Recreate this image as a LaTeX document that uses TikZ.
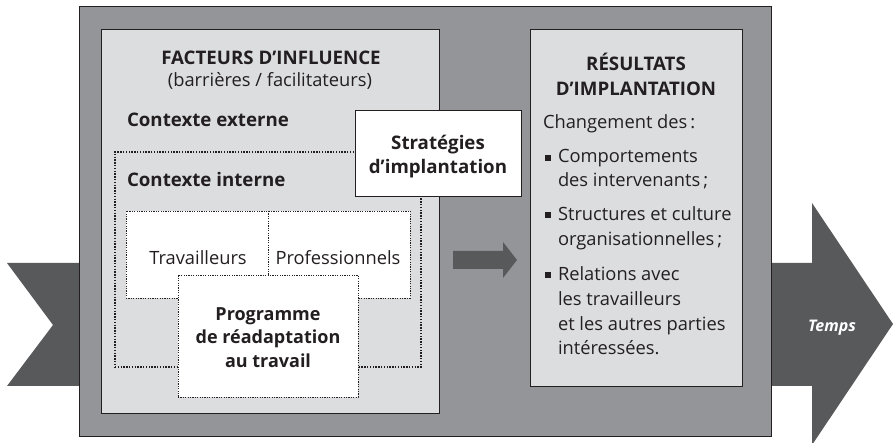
\documentclass[tikz,border=0pt]{standalone}
\usepackage{fontspec}
\setmainfont{Open Sans}
\definecolor{framegray}{HTML}{939598}
\definecolor{panelgray}{HTML}{DCDDDF}
\definecolor{arrowgray}{HTML}{58595B}
\definecolor{inkline}{HTML}{231F20}
\begin{document}
\begin{tikzpicture}[x=1pt,y=-1pt,
  every node/.style={inner sep=0pt, outer sep=0pt, text=inkline},
  panel/.style={draw=inkline, line width=0.8pt, fill=panelgray, anchor=north west},
  whitebox/.style={draw=inkline, line width=0.8pt, fill=white, anchor=north west},
  innerzone/.style={draw=inkline, line width=1.4pt, dash pattern=on 1.4pt off 1.4pt, fill=panelgray, anchor=north west},
  actorbox/.style={draw=inkline, line width=0.5pt, dash pattern=on 1.2pt off 1.2pt, fill=white, anchor=north west},
  txt/.style={font=\fontsize{18.3}{24}\selectfont},
  head/.style={font=\fontsize{18.7}{24}\selectfont\bfseries},
  bulletmark/.style={fill=inkline, minimum size=6pt, anchor=center}
]
\useasboundingbox (0,0) rectangle (894,443);

% timeline chevron entering from the left
\fill[arrowgray] (7,263) -- (79,263) -- (79,386) -- (7,386) -- (53,325) -- cycle;
% timeline arrow leaving on the right
\fill[arrowgray] (770,263) -- (812,263) -- (812,203) -- (893,324) -- (812,445) -- (812,386) -- (770,386) -- cycle;

% outer frame
\node[draw=inkline, line width=0.8pt, fill=framegray, anchor=north west,
      minimum width=692pt, minimum height=430pt] (frame) at (79,6) {};

% influence factors panel
\node[panel, minimum width=338pt, minimum height=384pt] (infl) at (101,29) {};
% results panel
\node[panel, minimum width=212pt, minimum height=357pt] (res) at (530,29) {};

% internal context zone
\node[innerzone, minimum width=306pt, minimum height=215pt] (interne) at (115,152) {};
% workers / professionals box
\node[actorbox, minimum width=284pt, minimum height=87pt] (actors) at (126,211) {};
\coordinate (divtop) at (268,211);
\coordinate (divbot) at (268,275);
\draw[inkline, line width=0.5pt, dash pattern=on 1.2pt off 1.2pt] (divtop) -- (divbot);
% rehabilitation programme box
\node[actorbox, minimum width=180pt, minimum height=122pt] (prog) at (178,275) {};
% strategies box
\node[whitebox, minimum width=166pt, minimum height=86pt] (strat) at (355,110) {};

% flow arrow between the panels
\fill[arrowgray] (453,251) -- (503,251) -- (503,242) -- (517,260) -- (503,278) -- (503,269) -- (453,269) -- cycle;

% texts of the influence panel
\node[head, anchor=base] (t1) at (271,65) {FACTEURS D’INFLUENCE};
\node[txt, anchor=base] (t2) at (270,87) {(barrières / facilitateurs)};
\node[head, anchor=base west] (t3) at (127,127) {Contexte externe};
\node[head, anchor=base west] (t4) at (127,187) {Contexte interne};
\node[head, anchor=base, align=center] (t5) at (438,174) {Stratégies\\d’implantation};
\node[txt, anchor=base] (t6) at (198,265) {Travailleurs};
\node[txt, anchor=base] (t7) at (338,265) {Professionnels};
\node[head, anchor=base, align=center, font=\fontsize{18}{23.5}\selectfont\bfseries] (t8) at (268,367) {Programme\\de réadaptation\\au travail};

% texts of the results panel
\node[head, anchor=base, align=center, font=\fontsize{18.7}{25}\selectfont\bfseries] (r1) at (636,96) {RÉSULTATS\\D’IMPLANTATION};
\node[txt, anchor=base west] (r2) at (543,129) {Changement des\,:};
\node[bulletmark] (b1) at (548,158) {};
\node[txt, anchor=base west, align=left] (r3) at (558,187) {Comportements\\des intervenants\,;};
\node[bulletmark] (b2) at (548,215) {};
\node[txt, anchor=base west, align=left, font=\fontsize{18.3}{25}\selectfont] (r4) at (558,246) {Structures et culture\\organisationnelles\,;};
\node[bulletmark] (b3) at (548,275) {};
\node[txt, anchor=base west, align=left, font=\fontsize{18.3}{24.7}\selectfont] (r5) at (558,355) {Relations avec\\les travailleurs\\et les autres parties\\intéressées.};

% time label
\node[font=\fontsize{16}{20}\selectfont\bfseries\itshape, text=white, anchor=base] (temps) at (832,332) {Temps};
\end{tikzpicture}
\end{document}
